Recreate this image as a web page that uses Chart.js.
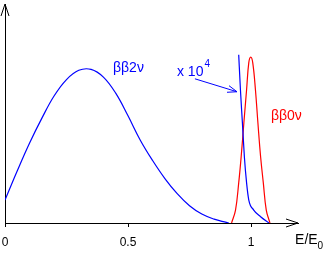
<!DOCTYPE html>
<html>
<head>
<meta charset="utf-8">
<script src="https://cdn.jsdelivr.net/npm/chart.js@4"></script>
<style>
  html, body { margin: 0; padding: 0; background: #fff; }
  #wrap { width: 327px; height: 253px; }
</style>
</head>
<body>
<div id="wrap"><canvas id="chart"></canvas></div>
<script>
// ββ2ν spectrum (peak = 1)
const e2nu = [0, 0.05, 0.10, 0.15, 0.20, 0.25, 0.30, 0.35, 0.40, 0.45, 0.50, 0.55, 0.60, 0.65, 0.70, 0.75, 0.80, 0.85, 0.90, 0.91];
const y2nu = [0.149, 0.339, 0.519, 0.68, 0.825, 0.93, 0.99, 0.996, 0.946, 0.842, 0.695, 0.537, 0.405, 0.288, 0.19, 0.112, 0.058, 0.025, 0.004, 0];

// ββ2ν tail x 10^4
const eTail = [0.950, 0.957, 0.965, 0.973, 0.982, 0.991, 1.011, 1.039, 1.073];
const yTail = [1.091, 0.864, 0.649, 0.429, 0.26, 0.149, 0.084, 0.041, 0];

// ββ0ν peak
const e0nu = [0.921, 0.937, 0.950, 0.960, 0.971, 0.982, 0.991, 0.999, 1.007, 1.018, 1.028, 1.039, 1.050, 1.062, 1.077];
const y0nu = [0, 0.084, 0.26, 0.43, 0.65, 0.864, 1.04, 1.076, 1.04, 0.864, 0.65, 0.43, 0.26, 0.084, 0];

// x axis ticks
const xTicks = [0, 0.5, 1];
const xTickLabels = ['0', '0.5', '1'];

const blue = '#0000ff';
const red = '#ff0000';
const font = '"Liberation Sans", Arial, Helvetica, sans-serif';

function pts(xs, ys) {
    return xs.map(function (x, i) { return {x: x, y: ys[i]}; });
}

function line(data, color, mode) {
    return {
        data: data,
        borderColor: color,
        borderWidth: 1.2,
        pointRadius: 0,
        fill: false,
        tension: 0.4,
        cubicInterpolationMode: mode
    };
}

// arrows, labels and annotations
const deco = {
    id: 'deco',
    afterDraw: function (chart) {
        var ctx = chart.ctx;
        var a = chart.chartArea;
        var xs = chart.scales.x, ys = chart.scales.y;
        var px = function (v) { return xs.getPixelForValue(v); };
        var py = function (v) { return ys.getPixelForValue(v); };
        ctx.save();

        // axis arrow heads
        ctx.strokeStyle = '#000';
        ctx.lineWidth = 1;
        ctx.beginPath();
        ctx.moveTo(a.left - 4, a.top + 12);
        ctx.lineTo(a.left, a.top);
        ctx.lineTo(a.left + 4, a.top + 12);
        ctx.moveTo(a.right - 12, a.bottom - 4);
        ctx.lineTo(a.right, a.bottom);
        ctx.lineTo(a.right - 12, a.bottom + 4);
        ctx.stroke();

        // axis title E/E0
        ctx.fillStyle = '#000';
        ctx.textBaseline = 'alphabetic';
        ctx.font = '14px ' + font;
        var tx = px(1.179), ty = a.bottom + 21;
        ctx.fillText('E/E', tx, ty);
        var w = ctx.measureText('E/E').width;
        ctx.font = '10px ' + font;
        ctx.fillText('0', tx + w, ty + 5);

        // ββ2ν label
        ctx.fillStyle = blue;
        ctx.font = '14px ' + font;
        ctx.fillText('ββ2ν', px(0.439), py(0.98));

        // x 10^4 label and its arrow
        ctx.fillText('x 10', px(0.699), py(0.956));
        w = ctx.measureText('x 10').width;
        ctx.font = '10px ' + font;
        ctx.fillText('4', px(0.699) + w + 1, py(1.013));

        var x1 = px(0.772), y1 = py(0.935), x2 = px(0.943), y2 = py(0.851);
        var ang = Math.atan2(y2 - y1, x2 - x1);
        ctx.strokeStyle = blue;
        ctx.beginPath();
        ctx.moveTo(x1, y1);
        ctx.lineTo(x2, y2);
        ctx.moveTo(x2 - 10 * Math.cos(ang - 0.35), y2 - 10 * Math.sin(ang - 0.35));
        ctx.lineTo(x2, y2);
        ctx.lineTo(x2 - 10 * Math.cos(ang + 0.35), y2 - 10 * Math.sin(ang + 0.35));
        ctx.stroke();

        // ββ0ν label
        ctx.fillStyle = red;
        ctx.font = '14px ' + font;
        ctx.fillText('ββ0ν', px(1.081), py(0.669));

        ctx.restore();
    }
};

var ctx = document.getElementById('chart').getContext('2d');
var chart = new Chart(ctx, {
    type: 'line',
    data: {
        datasets: [
            line(pts(e2nu, y2nu), blue, 'default'),
            line(pts(eTail, yTail), blue, 'monotone'),
            line(pts(e0nu, y0nu), red, 'default')
        ]
    },
    options: {
        responsive: true,
        maintainAspectRatio: false,
        animation: false,
        layout: { padding: { left: 5, top: 4, right: 29, bottom: 0 } },
        plugins: { legend: { display: false }, tooltip: { enabled: false } },
        scales: {
            x: {
                type: 'linear',
                min: 0,
                max: 1.191,
                afterFit: function (s) {
                    s.height = 30;
                    s.paddingLeft = 0;
                    s.paddingRight = 0;
                },
                afterBuildTicks: function (s) {
                    s.ticks = xTicks.map(function (v) { return {value: v}; });
                },
                ticks: {
                    color: '#000',
                    padding: 8,
                    maxRotation: 0,
                    font: { family: font, size: 12 },
                    callback: function (v, i) { return xTickLabels[i]; }
                },
                grid: { drawOnChartArea: false, drawTicks: true, tickLength: 4, color: '#000' },
                border: { display: true, color: '#000', width: 1 }
            },
            y: {
                min: 0,
                max: 1.42,
                afterFit: function (s) { s.width = 0; },
                ticks: { display: false },
                grid: { display: false },
                border: { display: true, color: '#000', width: 1 }
            }
        }
    },
    plugins: [deco]
});
</script>
</body>
</html>
